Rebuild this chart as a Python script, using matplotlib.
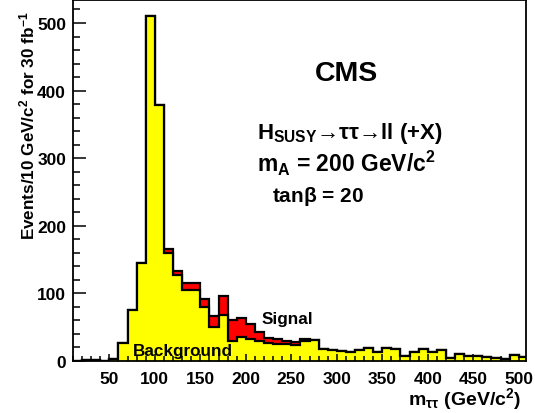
import numpy as np
import matplotlib.pyplot as plt
from matplotlib.ticker import MultipleLocator

plt.rcParams['font.family'] = ['Liberation Sans', 'DejaVu Sans']
plt.rcParams['font.weight'] = 'bold'
plt.rcParams['mathtext.fontset'] = 'custom'
plt.rcParams['mathtext.rm'] = 'Liberation Sans:bold'
plt.rcParams['mathtext.it'] = 'Liberation Sans:bold'
plt.rcParams['mathtext.bf'] = 'Liberation Sans:bold'

# m_tautau bins, 10 GeV wide
edges = np.arange(10, 520, 10)

# background (yellow)
background = [0.5, 1, 2, 0.5, 3, 27, 75, 145, 510, 378,
              160, 127, 105, 105, 80, 50, 68, 30, 35, 32,
              29, 26, 25, 25, 23.6, 30, 31, 17.7, 16.3, 14.8,
              13.8, 16.3, 18.7, 13.8, 18.7, 17.2, 7.4, 12.8, 17.2, 12.8,
              16.3, 4, 9.9, 7.9, 7.4, 6.4, 4, 2.5, 8.9, 5.4]

# signal + background (red on top)
total = [0.5, 1, 2, 0.5, 3, 27, 75, 145, 510, 378,
         165, 133, 116, 116, 91, 66, 96, 61, 64, 55,
         43, 34.5, 32, 30, 28.6, 32, 31, 17.7, 16.3, 14.8,
         13.8, 16.3, 18.7, 13.8, 18.7, 17.2, 7.4, 12.8, 17.2, 12.8,
         16.3, 4, 9.9, 7.9, 7.4, 6.4, 4, 2.5, 8.9, 5.4]

fig = plt.figure(figsize=(5.35, 4.14), dpi=100)
ax = fig.add_axes([73 / 535, 52 / 414, 453 / 535, 361 / 414])

ax.stairs(total, edges, fill=True, color='red')
ax.stairs(total, edges, color='black', lw=1.6)
ax.stairs(background, edges, fill=True, color='#ffff00')
ax.stairs(background, edges, color='black', lw=1.6)

ax.set_xlim(10, 508)
ax.set_ylim(0, 534)

ax.xaxis.set_major_locator(MultipleLocator(50))
ax.xaxis.set_minor_locator(MultipleLocator(10))
ax.yaxis.set_major_locator(MultipleLocator(100))
ax.yaxis.set_minor_locator(MultipleLocator(20))
ax.tick_params(which='both', direction='in', top=False, right=False, width=1.1)
ax.tick_params(which='major', length=9, labelsize=12.5, pad=5)
ax.tick_params(which='minor', length=5)
ax.tick_params(axis='x', which='major', length=5, pad=7)
ax.tick_params(axis='x', which='minor', length=3.5)
for lab in ax.get_xticklabels() + ax.get_yticklabels():
    lab.set_fontweight('bold')
for s in ax.spines.values():
    s.set_linewidth(1.3)

fig.text(27 / 535, 1 - 240 / 414, r'Events/10 GeV/c$^2$ for 30 fb$^{-1}$',
         rotation=90, rotation_mode='anchor', ha='left', va='center',
         fontsize=12.3, fontweight='bold')
fig.text(521 / 535, 1 - 399 / 414, r'm$_{\tau\tau}$ (GeV/c$^2$)',
         ha='right', va='center', fontsize=14, fontweight='bold')

fig.text(347 / 535, 1 - 74 / 414, 'CMS', ha='center', va='center',
         fontsize=20.5, fontweight='bold')
fig.text(257 / 535, 1 - 133 / 414, 'H$_{\\rm SUSY}$\u2192\u03c4\u03c4\u2192ll (+X)',
         ha='left', va='center', fontsize=16, fontweight='bold')
fig.text(257 / 535, 1 - 163 / 414, r'm$_{\rm A}$ = 200 GeV/c$^2$',
         ha='left', va='center', fontsize=16.5, fontweight='bold')
fig.text(272 / 535, 1 - 197 / 414, r'tan$\beta$ = 20',
         ha='left', va='center', fontsize=15, fontweight='bold')

fig.text(262 / 535, 1 - 320 / 414, 'Signal', ha='left', va='center',
         fontsize=12.3, fontweight='bold')
fig.text(133 / 535, 1 - 352 / 414, 'Background', ha='left', va='center',
         fontsize=12.3, fontweight='bold')

fig.savefig('out.png', dpi=100)
